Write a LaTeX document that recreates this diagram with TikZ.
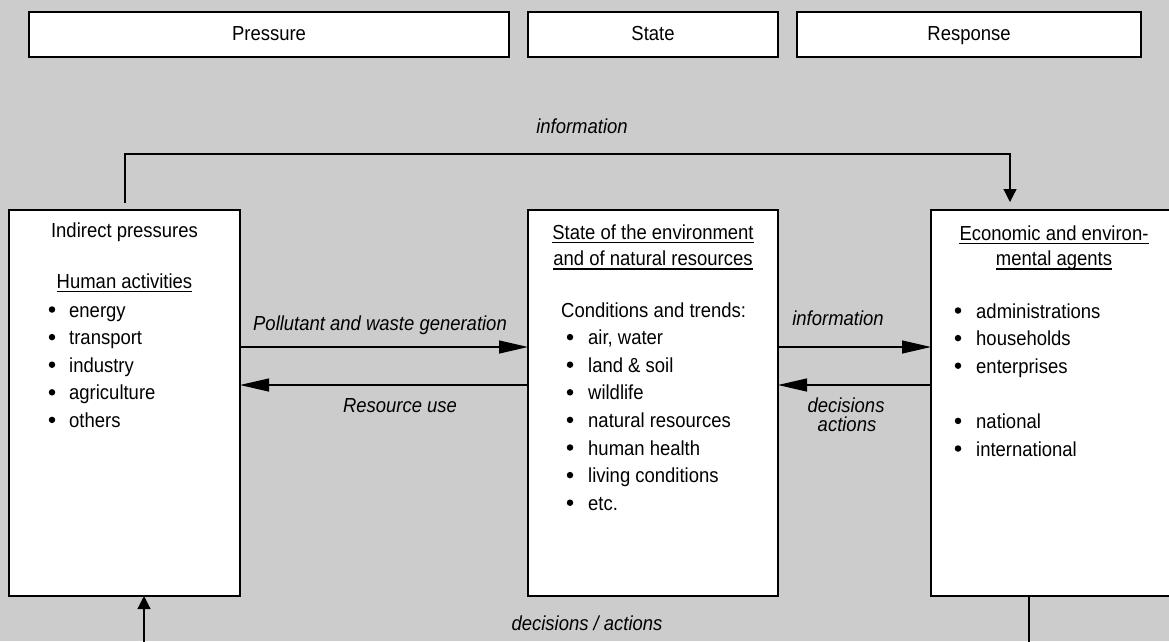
\documentclass[tikz,border=0pt]{standalone}
\usepackage{fontspec}
\setmainfont{Liberation Sans}[FakeStretch=0.91]
\usetikzlibrary{arrows.meta,shadows}
\definecolor{bggray}{RGB}{204,204,204}
\definecolor{shadegray}{RGB}{100,100,100}

\begin{document}
\begin{tikzpicture}[x=1pt,y=-1pt,
  font=\fontsize{20.3}{24}\selectfont,
  box/.style={draw=black, fill=white, line width=1.4pt, inner sep=0pt, outer sep=0pt,
    drop shadow={shadow xshift=1.3pt, shadow yshift=-1.3pt, fill=shadegray, opacity=1}},
  hdr/.style={box, minimum height=45pt, text height=14pt, text depth=2pt},
  panel/.style={box, minimum height=386pt},
  txt/.style={inner sep=0pt, anchor=base west},
  ctxt/.style={inner sep=0pt, anchor=base},
  dot/.style={circle, fill=black, inner sep=0pt, minimum size=6.5pt},
  lab/.style={inner sep=0pt, anchor=base, font=\fontsize{20.3}{24}\selectfont\itshape},
  uline/.style={line width=1.3pt},
  conn/.style={line width=1.2pt},
  htip/.style={-{Triangle[length=29pt,width=13pt]}},
  vtip/.style={-{Triangle[length=13pt,width=13pt]}}]

% canvas
\fill[bggray] (0,0) rectangle (1169,641);
\useasboundingbox (0,0) rectangle (1169,641);

% header row
\node[hdr, minimum width=480pt] (P)  at (269,34.5) {Pressure};
\node[hdr, minimum width=250pt] (S)  at (653,34.5) {State};
\node[hdr, minimum width=344pt] (Rs) at (969,34.5) {Response};

% main panels
\node[panel, minimum width=231pt] (L) at (124.5,403) {};
\node[panel, minimum width=250pt] (M) at (653,403) {};
\node[panel, minimum width=244pt] (R) at (1053,403) {};

% left panel contents
\node[ctxt] (lt1) at (124.5,237) {Indirect pressures};
\node[ctxt] (lt2) at (124.5,288) {Human activities};
\draw[uline] ([yshift=-3.5pt]lt2.base west) -- ([yshift=-3.5pt]lt2.base east);
\foreach \t [count=\i] in {energy,transport,industry,agriculture,others}{
  \node[dot] (lb\i) at (52,{317+27.6*(\i-1)-7.5}) {};
  \node[txt] (li\i) at (69,{317+27.6*(\i-1)}) {\t};
}

% middle panel contents
\node[ctxt] (mt1) at (653,239) {State of the environment};
\node[ctxt] (mt2) at (653,265) {and of natural resources};
\draw[uline] ([yshift=-3.5pt]mt1.base west) -- ([yshift=-3.5pt]mt1.base east);
\draw[uline] ([yshift=-4pt]mt2.base west) -- ([yshift=-4pt]mt2.base east);
\node[txt] (mc) at (561,317) {Conditions and trends:};
\foreach \t [count=\i] in {{air, water},{land \& soil},wildlife,{natural resources},{human health},{living conditions},etc.}{
  \node[dot] (mb\i) at (570,{344.6+27.6*(\i-1)-7.5}) {};
  \node[txt] (mi\i) at (588,{344.6+27.6*(\i-1)}) {\t};
}

% right panel contents
\node[ctxt] (rt1) at (1054,240) {Economic and environ-};
\node[ctxt] (rt2) at (1054,265) {mental agents};
\draw[uline] ([yshift=-3.5pt]rt1.base west) -- ([yshift=-3.5pt]rt1.base east);
\draw[uline] ([yshift=-4pt]rt2.base west) -- ([yshift=-4pt]rt2.base east);
\foreach \t/\y [count=\i] in {administrations/318,households/345.6,enterprises/373.2,national/428.4,international/456}{
  \node[dot] (rb\i) at (958,{\y-7.5}) {};
  \node[txt] (ri\i) at (976,\y) {\t};
}

% routing points
\coordinate (topL) at (125,154);
\coordinate (topR) at (1010,154);
\coordinate (row1) at (0,347);
\coordinate (row2) at (0,385);
\coordinate (botL) at (144,660);
\coordinate (botR) at (1029,660);

% information loop over the top
\draw[conn, vtip, shorten <=7pt, shorten >=8pt]
  (L.north -| topL) -- (topL) -- (topR) -- (R.north -| topR);
\node[lab] (info1) at (582,133) {information};

% pressure <-> state
\draw[conn, htip] (L.east |- row1) -- (M.west |- row1);
\draw[conn, htip] (M.west |- row2) -- (L.east |- row2);
\node[lab] (pw) at (380,330) {Pollutant and waste generation};
\node[lab] (ru) at (400,412) {Resource use};

% state <-> response
\draw[conn, htip] (M.east |- row1) -- (R.west |- row1);
\draw[conn, htip] (R.west |- row2) -- (M.east |- row2);
\node[lab] (info2) at (838,325) {information};
\node[lab] (dec) at (846,412) {decisions};
\node[lab] (act) at (847,431) {actions};

% feedback along the bottom
\draw[conn] (R.south -| botR) -- (botR);
\draw[conn, vtip] (botL) -- (L.south -| botL);
\node[lab] (da) at (587,630) {decisions / actions};

\end{tikzpicture}
\end{document}
